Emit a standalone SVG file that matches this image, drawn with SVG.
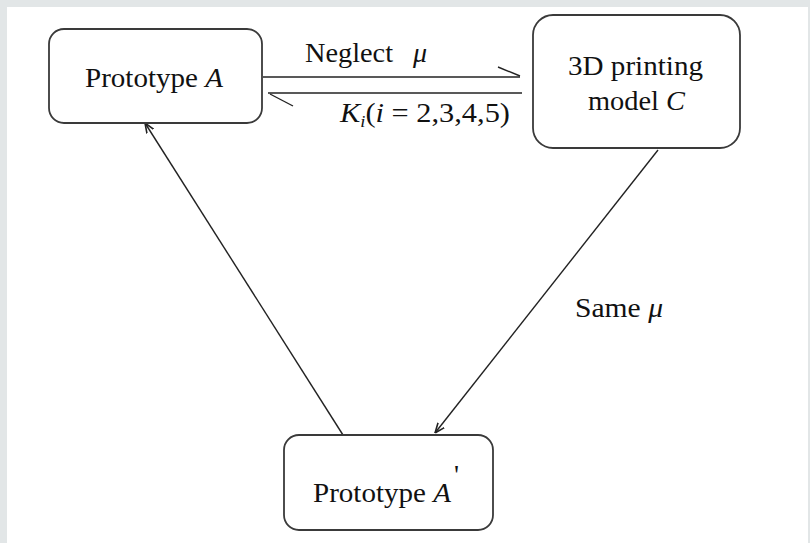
<svg xmlns="http://www.w3.org/2000/svg" width="810" height="543" viewBox="0 0 810 543">
<defs>
<style>
.box{fill:#fff;stroke:#3a3a3a;stroke-width:1.8}
.t{font-family:"Liberation Serif",serif;font-size:28px;fill:#111}
.i{font-style:italic}
.ln{stroke:#222;stroke-width:1.4;fill:none}
</style>
<marker id="ah" viewBox="0 0 10 10" refX="10" refY="5" markerWidth="10" markerHeight="10" markerUnits="userSpaceOnUse" orient="auto">
<path d="M0,1 L10,5 L0,9" fill="none" stroke="#222" stroke-width="1.6"/>
</marker>
</defs>
<rect x="0" y="0" width="810" height="543" fill="#e2e6e7"/>
<rect x="7" y="7" width="801" height="536" fill="#fff"/>
<g id="connectors">
<line class="ln" x1="263" y1="77" x2="520" y2="77"/>
<line class="ln" x1="520" y1="76" x2="498" y2="67"/>
<line class="ln" x1="268" y1="93" x2="522" y2="93"/>
<line class="ln" x1="270" y1="94" x2="293" y2="106"/>
<text class="t" x="305" y="62" textLength="88" lengthAdjust="spacingAndGlyphs">Neglect</text>
<text class="t i" x="413" y="62">μ</text>
<text class="t" x="340" y="122" textLength="170" lengthAdjust="spacingAndGlyphs"><tspan class="i">K</tspan><tspan class="i" font-size="17" dy="5">i</tspan><tspan dy="-5">(</tspan><tspan class="i">i</tspan> = 2,3,4,5)</text>
<line class="ln" x1="658" y1="150" x2="435" y2="433" marker-end="url(#ah)"/>
<text class="t" x="575" y="317" textLength="88" lengthAdjust="spacingAndGlyphs">Same <tspan class="i">μ</tspan></text>
<line class="ln" x1="343" y1="435" x2="145" y2="123" marker-end="url(#ah)"/>
</g>
<g id="nodeA">
<rect class="box" x="49" y="29" width="213" height="94" rx="15"/>
<text class="t" x="85" y="87" textLength="138" lengthAdjust="spacingAndGlyphs">Prototype <tspan class="i">A</tspan></text>
</g>
<g id="nodeC">
<rect class="box" x="533" y="15" width="207" height="133" rx="20"/>
<text class="t" x="568" y="75" textLength="135" lengthAdjust="spacingAndGlyphs">3D printing</text>
<text class="t" x="588" y="110" textLength="97" lengthAdjust="spacingAndGlyphs">model <tspan class="i">C</tspan></text>
</g>
<g id="nodeA2">
<rect class="box" x="284" y="435" width="209" height="95" rx="15"/>
<text class="t" x="313" y="502" textLength="138" lengthAdjust="spacingAndGlyphs">Prototype <tspan class="i">A</tspan></text>
<text class="t" x="454" y="484" font-size="10">'</text>
</g>
</svg>
